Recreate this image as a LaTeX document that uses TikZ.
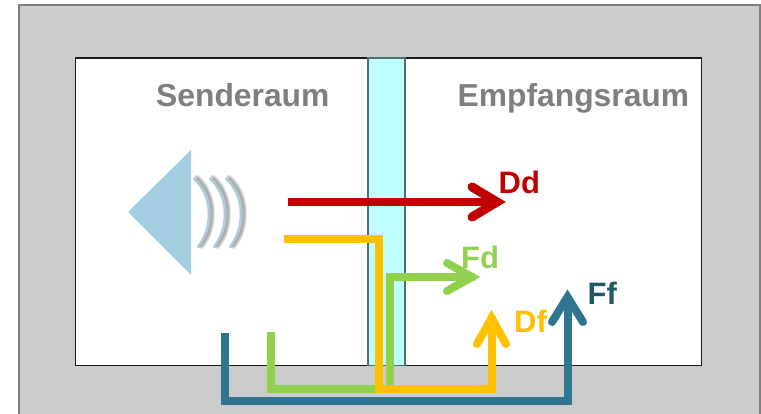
\documentclass[tikz,border=0pt]{standalone}
\usepackage{fontspec}
\setmainfont{Liberation Sans}
\usetikzlibrary{calc}
\definecolor{wallgray}{HTML}{CCCCCC}
\definecolor{wallline}{HTML}{7F7F7F}
\definecolor{glassfill}{HTML}{BFFFFF}
\definecolor{glassline}{HTML}{4F6F6F}
\definecolor{speaker}{HTML}{A3CEE1}
\definecolor{redpath}{HTML}{C00000}
\definecolor{yellowpath}{HTML}{FFC000}
\definecolor{greenpath}{HTML}{92D050}
\definecolor{bluepath}{HTML}{2F7592}
\definecolor{bluetext}{HTML}{215868}
\tikzset{
  x=1pt,y=-1pt,
  roomlabel/.style={font=\fontsize{31.8}{34}\selectfont\bfseries,text=wallline,inner sep=0pt,anchor=base west},
  pathlabel/.style={font=\fontsize{31}{34}\selectfont\bfseries,inner sep=0pt,anchor=base west},
  pathline/.style={line width=#1,miter limit=10,line cap=butt,line join=miter},
  pathline/.default=8pt,
  headline/.style={line width=8pt,line cap=round,line join=miter,miter limit=20},
  wave/.style={line width=2.2pt,color=speaker,line cap=round},
  waveshadow/.style={line width=#1,color=black,opacity=.09,line cap=round},
}
\begin{document}
\begin{tikzpicture}
\useasboundingbox (0,0) rectangle (761,414);
% walls and rooms
\fill[white] (0,0) rectangle (761,414);
\path[fill=wallgray,draw=wallline,line width=2pt] (18.5,5.5) -- (759.5,5.5) -- (759.5,418) -- (18.5,418) -- cycle;
\node[draw=black!90,line width=1.3pt,fill=white,minimum width=626pt,minimum height=307pt,inner sep=0pt,anchor=north west] (room) at (75,57.5) {};
\node[draw=glassline,line width=1.6pt,fill=glassfill,minimum width=37pt,minimum height=307pt,inner sep=0pt,anchor=north west] (glass) at (367,57.5) {};
% labels
\node[roomlabel] (sender) at (156,106.5) {Senderaum};
\node[roomlabel] (empf) at (457.5,106.5) {Empfangsraum};
% speaker
\fill[speaker] (128,212) -- (191,150) -- (191,275) -- cycle;
\foreach \d in {0,16,32}{
  \foreach \w in {2pt,3.5pt,5pt,6.5pt}{
    \draw[waveshadow=\w] ($(197,178)+(\d,0)$) .. controls ($(216,195)+(\d,0)$) and ($(216,228)+(\d,0)$) .. ($(201,246)+(\d,0)$);
  }
}
\foreach \d in {0,16,32}{
  \draw[wave] ($(194,179)+(\d,0)$) .. controls ($(213,195)+(\d,0)$) and ($(213,228)+(\d,0)$) .. ($(198,247)+(\d,0)$);
}
% named points
\coordinate (ddS) at (288,202);
\coordinate (ddT) at (500,202);
\coordinate (dfS) at (284,239);
\coordinate (dfA) at (378.5,239);
\coordinate (dfB) at (378.5,389);
\coordinate (dfC) at (491.5,389);
\coordinate (dfT) at (491.5,316);
\coordinate (fdS) at (271,332);
\coordinate (fdA) at (271,389);
\coordinate (fdB) at (390,389);
\coordinate (fdC) at (390,277);
\coordinate (fdT) at (475,277);
\coordinate (ffS) at (225,333);
\coordinate (ffA) at (225,401);
\coordinate (ffB) at (567.5,401);
\coordinate (ffT) at (567.5,296);
% Ff
\draw[pathline,bluepath] (ffS) -- (ffA) -- (ffB) -- (ffT);
\draw[headline,bluepath] (552,322) -- (567.5,297) -- (583,322);
% Fd
\draw[pathline,greenpath] (fdS) -- (fdA) -- (fdB) -- (fdC) -- (fdT);
\draw[headline,greenpath] (447,263) -- (472,277) -- (447,291);
% Df
\draw[pathline,yellowpath] (dfS) -- (dfA) -- (dfB) -- (dfC) -- (dfT);
\draw[headline,yellowpath] (477,344) -- (491.5,318) -- (506,344);
% Dd
\draw[pathline=8pt,redpath] (ddS) -- (ddT);
\draw[headline,line width=9pt,redpath] (472,187) -- (497,202) -- (472,217);
% path labels
\node[pathlabel,text=redpath] (dd) at (498.5,193.5) {Dd};
\node[pathlabel,text=greenpath] (fd) at (461,269) {Fd};
\node[pathlabel,text=yellowpath] (df) at (514,332) {Df};
\node[pathlabel,text=bluetext] (ff) at (587.5,305) {Ff};
\end{tikzpicture}
\end{document}
